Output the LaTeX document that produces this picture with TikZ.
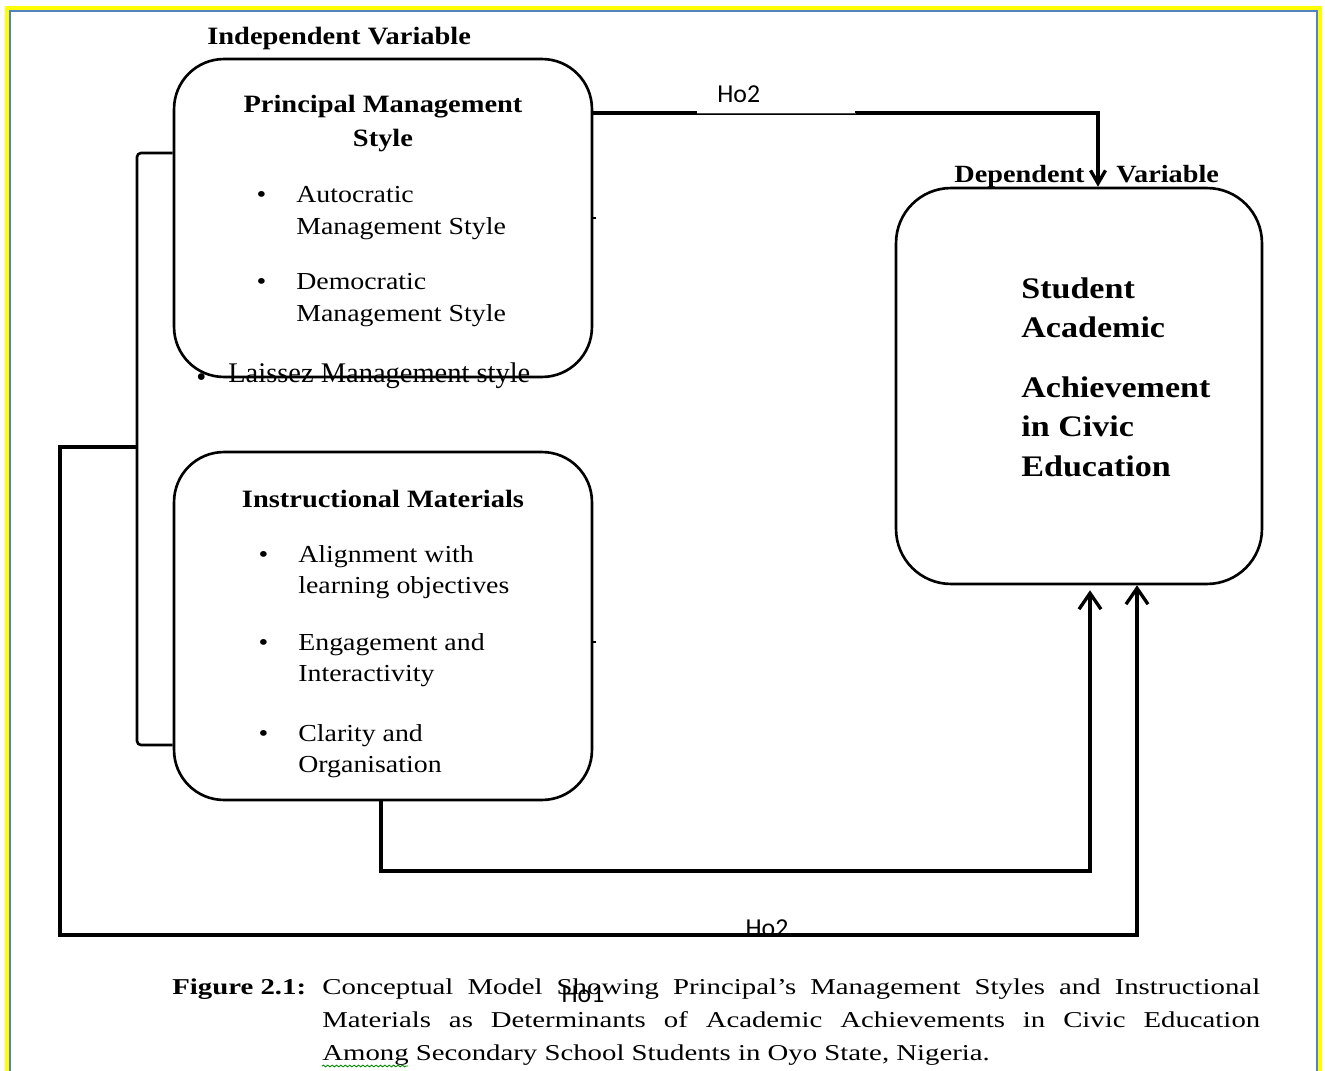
\documentclass[tikz,border=0pt]{standalone}
\usepackage{fontspec}
\setmainfont{Liberation Serif}[FakeStretch=1.14]
\newfontfamily\plainserif{Liberation Serif}
\newfontfamily\capserif{Liberation Serif}[FakeStretch=1.27]
\newfontfamily\hofont{Carlito}
\usetikzlibrary{arrows.meta,decorations.pathmorphing}
\definecolor{frameyellow}{RGB}{255,255,0}
\definecolor{frameblue}{RGB}{84,130,190}
\newcommand{\twolines}[2]{\begin{tabular}[t]{@{}l@{}}#1\\#2\end{tabular}}
\newcommand{\bul}{\llap{\textbullet\hspace{0.6cm}}}

\tikzset{
    box/.style={draw, rounded corners=1cm, line width=1.5pt},
    link/.style={line width=1.9pt},
    tip/.style={-{Straight Barb[length=3.2mm,width=4.4mm]}},
    smalltip/.style={-{Straight Barb[length=2.6mm,width=3mm]}},
    heading/.style={inner sep=0, font=\bfseries\fontsize{14.2}{19.3}\selectfont},
    entry/.style={inner sep=0, anchor=base west, font=\fontsize{13.9}{18.1}\selectfont},
    holabel/.style={inner sep=0, anchor=base, font=\hofont\fontsize{14.7}{17}\selectfont},
    captext/.style={inner sep=0, anchor=base west, font=\capserif\fontsize{12.9}{15}\selectfont}
}

\begin{document}
\begin{tikzpicture}[x=0.02cm, y=-0.02cm]
        \useasboundingbox (0,0) rectangle (1325,1071);
        % frame
        \draw[frameyellow, line width=0.08cm] (7,8.5) rectangle (1320,1100);
        \draw[frameblue, line width=0.04cm] (10,11) rectangle (1317,1100);

        % boxes
        \node[box, minimum width=8.36cm, minimum height=6.36cm] (pms) at (383,218) {};
        \node[box, minimum width=8.36cm, minimum height=6.96cm] (instr) at (383,626) {};
        \node[box, rounded corners=1.1cm, minimum width=7.32cm, minimum height=7.92cm] (ach) at (1079,386) {};
        \draw[line width=1.5pt] (pms.east) -- ++(3,0);
        \draw[line width=1.5pt] ([yshift=-0.32cm]instr.east) -- ++(3,0);

        % connectors
        \coordinate (turn2) at (1098,113);
        \draw[link, smalltip] (pms.east |- turn2) -- (turn2) -- (ach.north -| turn2);
        \coordinate (low1) at (381,871);
        \coordinate (low2) at (1090,871);
        \draw[link, tip, shorten >=0.1cm] (instr.south -| low1) -- (low1) -- (low2) -- (ach.south -| low2);
        \coordinate (brtop) at (137,153);
        \coordinate (brmid) at (137,447);
        \coordinate (brbot) at (137,745);
        \draw[line width=1.5pt, rounded corners=0.08cm] (pms.west |- brtop) -- (brtop) -- (brbot) -- (instr.west |- brbot);
        \coordinate (outa) at (60,447);
        \coordinate (outb) at (60,935);
        \coordinate (outc) at (1137,935);
        \draw[link, tip] (brmid) -- (outa) -- (outb) -- (outc) -- (ach.south -| outc);

        % hypothesis labels
        \node[fill=white, anchor=south west, inner xsep=0.4cm, inner ysep=0, text width=2.36cm, minimum height=0.72cm, align=left, font=\hofont\fontsize{14.7}{17}\selectfont] (hotop) at (697,113) {Ho2};
        \draw[line width=0.5pt, black!70] (hotop.south west) -- (hotop.south east);
        \node[holabel] (hobot) at (767,936) {Ho2};

        % texts
        \node[heading, anchor=base west] (indep) at (207,45) {Independent Variable};
        \node[heading, anchor=base east, font=\bfseries\fontsize{14.1}{17}\selectfont] (depl) at (1085,183) {Dependent};
        \node[heading, anchor=base west, font=\bfseries\fontsize{14.1}{17}\selectfont] (depr) at (1116,183) {Variable};

        \node[heading, anchor=base] (pmstitle) at (383,113) {\begin{tabular}[t]{@{}c@{}}Principal Management\\Style\end{tabular}};
        \node[entry] (auto) at (296,203) {\twolines{\bul Autocratic}{Management Style}};
        \node[entry] (demo) at (296,290) {\twolines{\bul Democratic}{Management Style}};
        \node[inner sep=0, anchor=base west, font=\plainserif\fontsize{16.2}{19}\selectfont] (laissez) at (228,382) {\llap{\raisebox{-0.08cm}{\textbullet}\hspace{0.44cm}}Laissez Management style};

        \node[heading, anchor=base] (instrtitle) at (383,507) {Instructional Materials};
        \node[entry] (align) at (298,562) {\twolines{\bul Alignment with}{learning objectives}};
        \node[entry] (engage) at (298,650) {\twolines{\bul Engagement and}{Interactivity}};
        \node[entry] (clarity) at (298,741) {\twolines{\bul Clarity and}{Organisation}};

        \node[inner sep=0, anchor=base west, font=\bfseries\fontsize{17}{22.7}\selectfont] (achtop) at (1021,298) {\twolines{Student}{Academic}};
        \node[inner sep=0, anchor=base west, font=\bfseries\fontsize{17}{22.7}\selectfont] (achbot) at (1021,397) {\begin{tabular}[t]{@{}l@{}}Achievement\\in Civic\\Education\end{tabular}};

        % caption
        \node[captext] (fig) at (172,994) {\bfseries Figure 2.1:};
        \node[captext] (cap1) at (322,994) {\makebox[18.76cm][s]{Conceptual Model Showing Principal’s Management Styles and Instructional}};
        \node[captext] (cap2) at (322,1027) {\makebox[18.76cm][s]{Materials as Determinants of Academic Achievements in Civic Education}};
        \node[captext] (cap3) at (322,1060) {Among Secondary School Students in Oyo State, Nigeria.};
        \draw[green!55!black, line width=0.5pt, decorate, decoration={snake, amplitude=0.5pt, segment length=2.5pt}] ([yshift=-0.12cm]cap3.base west) -- ++(86,0);
        \node[holabel] (hoone) at (583,1002) {Ho1};
    \end{tikzpicture}
\end{document}
